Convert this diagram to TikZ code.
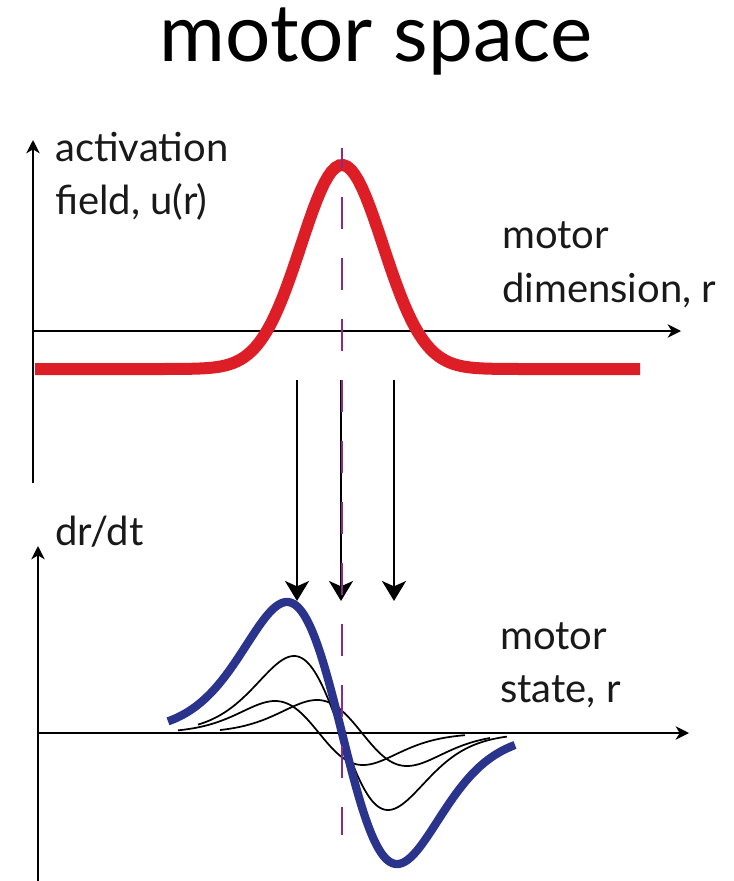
\documentclass[tikz,border=0pt]{standalone}
\usepackage{fontspec}
\setmainfont{Lato}
\usetikzlibrary{arrows.meta}
\definecolor{fieldred}{RGB}{221,30,38}
\definecolor{stateblue}{RGB}{42,52,140}
\definecolor{peakpurple}{RGB}{135,45,135}
\begin{document}
\begin{tikzpicture}[x=0.75pt,y=-0.75pt,
  axisline/.style={line width=1.3pt,-{Stealth[length=10pt,width=10pt,inset=3pt]}},
  maparrow/.style={line width=1.6pt,-{Stealth[length=15pt,width=18pt,inset=4pt]}},
  redcurve/.style={line width=9pt,fieldred},
  bluecurve/.style={line width=6.2pt,stateblue,line join=round},
  thincurve/.style={line width=1.3pt,black},
  peakline/.style={line width=1.4pt,peakpurple,dash pattern=on 24pt off 21.75pt,dash phase=9pt},
  lbl/.style={anchor=base west,inner sep=0pt,font=\fontsize{30}{35}\selectfont,text=black!90},
  titlelbl/.style={anchor=base,inner sep=0pt,font=\fontsize{60}{70}\selectfont}]
\useasboundingbox (0,0) rectangle (733,881);

% title
\node[titlelbl] (title) at (376,61) {motor space};

% ---------- top panel ----------
\coordinate (tvbot) at (33,483);
\coordinate (tvtop) at (33,140);
\coordinate (thl) at (33,331);
\coordinate (thr) at (681,331);
\draw[axisline] (tvbot) -- (tvtop);
\draw[axisline] (thl) -- (thr);

\draw[redcurve] plot[domain=35:640,samples=160] (\x,{369-204*exp(-((\x-342)/41)^2/2)});

\node[lbl] (act1) at (55,161) {activation};
\node[lbl] (act2) at (55,214) {field, u(r)};
\node[lbl] (dim1) at (502,248) {motor};
\node[lbl] (dim2) at (502,302) {dimension, r};

% ---------- mapping arrows ----------
\coordinate (a1s) at (297,380); \coordinate (a1e) at (297,601);
\coordinate (a2s) at (341,380); \coordinate (a2e) at (341,601);
\coordinate (a3s) at (394,380); \coordinate (a3e) at (394,601);
\draw[maparrow] (a1s) -- (a1e);
\draw[maparrow] (a2s) -- (a2e);
\draw[maparrow] (a3s) -- (a3e);

% ---------- bottom panel ----------
\coordinate (bvbot) at (38,881);
\coordinate (bvtop) at (38,546);
\coordinate (bhl) at (38,733);
\coordinate (bhr) at (689,733);
\draw[axisline] (bvbot) -- (bvtop);
\draw[axisline] (bhl) -- (bhr);

\node[lbl] (drdt) at (55,545) {dr/dt};
\node[lbl] (st1) at (500,649) {motor};
\node[lbl] (st2) at (500,702) {state, r};

% thin black curves
\draw[thincurve] plot[domain=198:507,samples=150]
  (\x,{733+77/0.5967*((\x-341)/47)/(1+((\x-341)/47)^2/15)^8});
\draw[thincurve] plot[domain=178:465,samples=150]
  (\x,{733+32/0.5967*((\x-319)/44)/(1+((\x-319)/44)^2/15)^8});
\draw[thincurve] plot[domain=220:490,samples=150]
  (\x,{733+33/0.5967*((\x-362)/45)/(1+((\x-362)/45)^2/15)^8});

% blue curve
\draw[bluecurve] plot[domain=168:515,samples=180]
  (\x,{733+131/0.5967*((\x-342)/55)/(1+((\x-342)/55)^2/15)^8});

% dashed peak line
\coordinate (pltop) at (342,148);
\coordinate (plbot) at (342,835);
\draw[peakline] (pltop) -- (plbot);
\end{tikzpicture}
\end{document}
